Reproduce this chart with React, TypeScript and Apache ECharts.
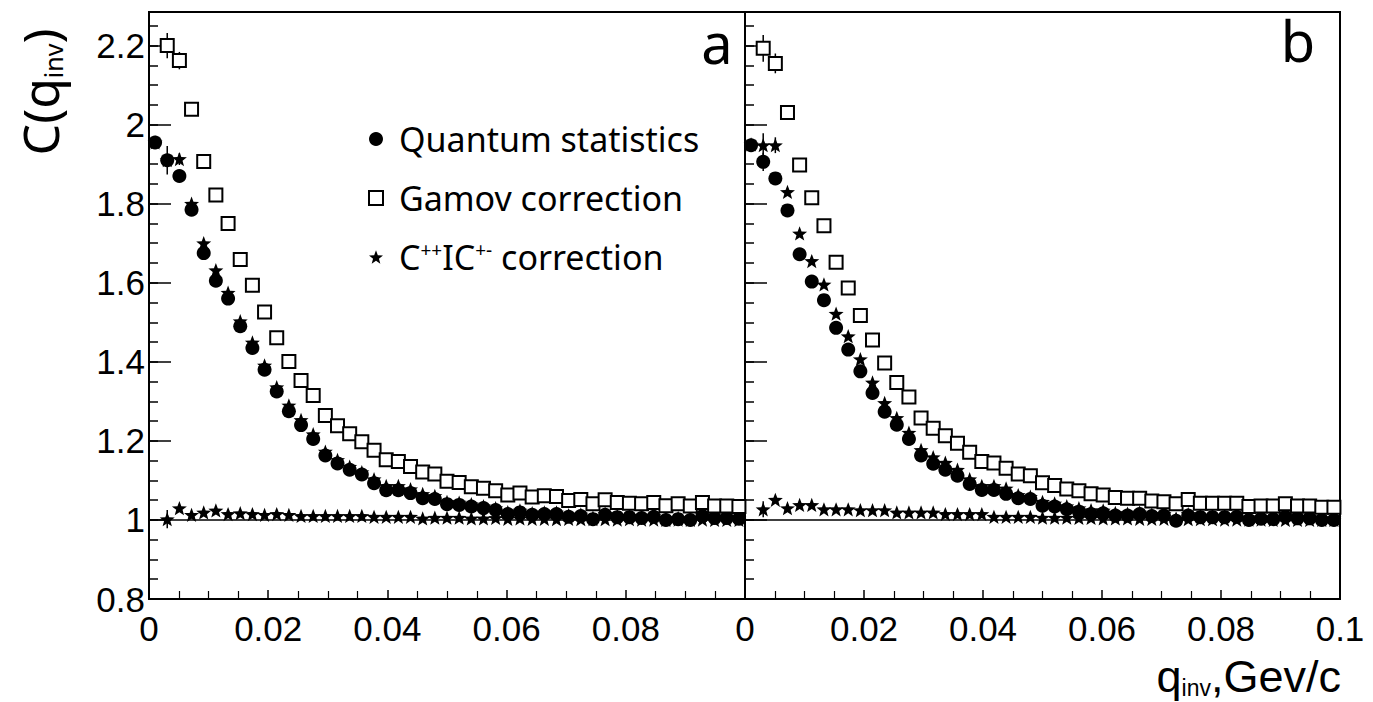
import { useEffect, useRef } from 'react';
import * as echarts from 'echarts';

// bin centres of q_inv (GeV/c), 49 bins over 0..0.1
const qInv = [
  0.00102, 0.00306, 0.0051, 0.00714, 0.00918, 0.01122, 0.01327, 0.01531, 0.01735, 0.01939,
  0.02143, 0.02347, 0.02551, 0.02755, 0.02959, 0.03163, 0.03367, 0.03571, 0.03776, 0.0398,
  0.04184, 0.04388, 0.04592, 0.04796, 0.05, 0.05204, 0.05408, 0.05612, 0.05816, 0.0602,
  0.06224, 0.06429, 0.06633, 0.06837, 0.07041, 0.07245, 0.07449, 0.07653, 0.07857, 0.08061,
  0.08265, 0.08469, 0.08673, 0.08878, 0.09082, 0.09286, 0.0949, 0.09694, 0.09898,
];

// Panel a
const quantumA = [
  1.955, 1.91, 1.87, 1.785, 1.675, 1.605, 1.56, 1.49, 1.435, 1.38,
  1.325, 1.275, 1.24, 1.205, 1.163, 1.143, 1.127, 1.115, 1.093, 1.075,
  1.075, 1.068, 1.055, 1.053, 1.04, 1.038, 1.034, 1.03, 1.025, 1.015,
  1.019, 1.013, 1.015, 1.015, 1.008, 1.01, 1.002, 1.013, 1.007, 1.007,
  1.005, 1.008, 1.0, 1.002, 1.0, 1.01, 1.005, 1.005, 1.003,
];
const gamovA = [
  null, 2.2, 2.162, 2.039, 1.907, 1.822, 1.75, 1.659, 1.594, 1.526,
  1.461, 1.401, 1.353, 1.315, 1.264, 1.238, 1.218, 1.198, 1.176, 1.152,
  1.148, 1.135, 1.121, 1.116, 1.098, 1.095, 1.084, 1.08, 1.074, 1.063,
  1.068, 1.058, 1.061, 1.059, 1.049, 1.052, 1.041, 1.051, 1.044, 1.042,
  1.041, 1.044, 1.036, 1.041, 1.035, 1.044, 1.035, 1.035, 1.034,
];
const corrA = [
  1.955, 1.91, 1.913, 1.8, 1.7, 1.632, 1.575, 1.503, 1.449, 1.391,
  1.336, 1.29, 1.253, 1.217, 1.173, 1.152, 1.135, 1.121, 1.103, 1.086,
  1.086, 1.078, 1.066, 1.061, 1.046, 1.044, 1.04, 1.035, 1.03, 1.02,
  1.024, 1.017, 1.019, 1.019, 1.012, 1.014, 1.006, 1.016, 1.01, 1.01,
  1.008, 1.011, 1.003, 1.005, 1.003, 1.012, 1.008, 1.008, 1.006,
];
const ratioA = [
  null, 1.002, 1.03, 1.013, 1.019, 1.024, 1.015, 1.017, 1.015, 1.013,
  1.015, 1.013, 1.01, 1.01, 1.01, 1.01, 1.01, 1.01, 1.008, 1.008,
  1.008, 1.008, 1.004, 1.006, 1.006, 1.006, 1.004, 1.004, 1.005, 1.003,
  1.004, 1.003, 1.003, 1.002, 1.003, 1.002, 1.002, 1.002, 1.001, 1.002,
  1.001, 1.001, 1.0, 1.001, 1.0, 1.001, 1.0, 1.0, 1.0,
];

// Panel b
const quantumB = [
  1.948, 1.906, 1.864, 1.783, 1.672, 1.603, 1.556, 1.486, 1.431, 1.376,
  1.321, 1.274, 1.241, 1.205, 1.163, 1.142, 1.127, 1.112, 1.091, 1.076,
  1.076, 1.066, 1.055, 1.053, 1.036, 1.034, 1.027, 1.021, 1.015, 1.017,
  1.011, 1.011, 1.015, 1.01, 1.011, 0.998, 1.011, 1.007, 1.007, 1.007,
  1.008, 1.0, 1.003, 1.002, 1.008, 1.004, 1.004, 1.0, 1.0,
];
const gamovB = [
  null, 2.193, 2.155, 2.031, 1.898, 1.815, 1.744, 1.652, 1.587, 1.517,
  1.455, 1.397, 1.348, 1.311, 1.258, 1.232, 1.213, 1.194, 1.171, 1.148,
  1.144, 1.131, 1.116, 1.112, 1.094, 1.087, 1.078, 1.074, 1.066, 1.063,
  1.057, 1.055, 1.055, 1.048, 1.046, 1.041, 1.052, 1.042, 1.042, 1.042,
  1.042, 1.034, 1.035, 1.035, 1.041, 1.035, 1.035, 1.032, 1.032,
];
const corrB = [
  1.95, 1.948, 1.948, 1.83, 1.725, 1.655, 1.596, 1.522, 1.465, 1.407,
  1.348, 1.296, 1.258, 1.221, 1.177, 1.159, 1.145, 1.127, 1.103, 1.086,
  1.086, 1.08, 1.063, 1.059, 1.046, 1.042, 1.035, 1.03, 1.025, 1.024,
  1.018, 1.016, 1.019, 1.014, 1.015, 1.003, 1.015, 1.011, 1.011, 1.011,
  1.012, 1.004, 1.007, 1.006, 1.012, 1.008, 1.008, 1.004, 1.004,
];
const ratioB = [
  null, 1.027, 1.051, 1.03, 1.038, 1.038, 1.027, 1.027, 1.027, 1.025,
  1.025, 1.025, 1.019, 1.019, 1.019, 1.019, 1.015, 1.015, 1.015, 1.015,
  1.008, 1.008, 1.008, 1.008, 1.006, 1.006, 1.006, 1.005, 1.005, 1.004,
  1.004, 1.004, 1.003, 1.003, 1.003, 1.002, 1.002, 1.002, 1.002, 1.001,
  1.001, 1.001, 1.001, 1.0, 1.0, 1.0, 1.0, 1.0, 1.0,
];

// statistical error half-widths (only the first bins show visible bars)
const errQuantumA = [0.013, 0.036, 0.015];
const errGamovA = [null, 0.032, 0.022, 0.012];
const errCorrA = [null, null, 0.015];
const errRatioA = [null, 0.023];
const errQuantumB = [0.012, 0.023, 0.012];
const errGamovB = [null, 0.034, 0.025, 0.012];
const errCorrB = [null, 0.03, 0.02];
const errRatioB = [null, 0.02];

const xTickLabelsA = ['0', '0.02', '0.04', '0.06', '0.08', ''];
const xTickLabelsB = ['0', '0.02', '0.04', '0.06', '0.08', '0.1'];
const yTickLabels = ['0.8', '1', '1.2', '1.4', '1.6', '1.8', '2', '2.2'];

const NAME_Q = 'Quantum statistics';
const NAME_G = 'Gamov correction';
const NAME_C = 'C++IC+- correction';

const STAR =
  'path://M0,-10L2.47,-3.4L9.51,-3.09L3.99,1.3L5.88,8.09L0,4.2L-5.88,8.09L-3.99,1.3L-9.51,-3.09L-2.47,-3.4Z';

const AXIS_FONT = 'Liberation Sans, Arial, sans-serif';
const TEXT_FONT = 'Noto Sans, DejaVu Sans, sans-serif';

function pts(ys: (number | null)[]) {
  const out: number[][] = [];
  ys.forEach((y, i) => {
    if (y != null) out.push([qInv[i], y]);
  });
  return out;
}

function errPts(pairs: [(number | null)[], (number | null)[]][]) {
  const out: number[][] = [];
  pairs.forEach(([ys, es]) => {
    es.forEach((e, i) => {
      const y = ys[i];
      if (e != null && y != null) out.push([qInv[i], y, e]);
    });
  });
  return out;
}

function panelSeries(
  p: number,
  quantum: (number | null)[],
  gamov: (number | null)[],
  corr: (number | null)[],
  ratio: (number | null)[],
  errs: [(number | null)[], (number | null)[]][],
) {
  const axes = { xAxisIndex: p, yAxisIndex: p * 2 };
  return [
    {
      type: 'scatter',
      name: 'ratio' + p,
      ...axes,
      data: pts(ratio),
      symbol: STAR,
      symbolKeepAspect: true,
      symbolSize: 15,
      itemStyle: { color: '#000', opacity: 1 },
      markLine: {
        silent: true,
        symbol: ['none', 'none'],
        label: { show: false },
        lineStyle: { color: '#000', width: 1.5, type: 'solid', opacity: 1 },
        data: [{ yAxis: 1 }],
      },
    },
    {
      type: 'scatter',
      name: NAME_C,
      ...axes,
      data: pts(corr),
      symbol: STAR,
      symbolKeepAspect: true,
      symbolSize: 15,
      itemStyle: { color: '#000', opacity: 1 },
    },
    {
      type: 'scatter',
      name: NAME_Q,
      ...axes,
      data: pts(quantum),
      symbol: 'circle',
      symbolSize: 14,
      itemStyle: { color: '#000', opacity: 1 },
    },
    {
      type: 'scatter',
      name: NAME_G,
      ...axes,
      data: pts(gamov),
      symbol: 'rect',
      symbolSize: 13,
      itemStyle: { color: '#fff', borderColor: '#000', borderWidth: 2, opacity: 1 },
    },
    {
      type: 'custom',
      name: 'err' + p,
      ...axes,
      data: errPts(errs),
      encode: { x: 0, y: 1 },
      renderItem: (_params: any, api: any) => {
        const x = api.value(0);
        const y = api.value(1);
        const e = api.value(2);
        const a = api.coord([x, y - e]);
        const b = api.coord([x, y + e]);
        return {
          type: 'line',
          shape: { x1: a[0], y1: a[1], x2: b[0], y2: b[1] },
          style: { stroke: '#000', lineWidth: 1.5 },
        };
      },
    },
  ];
}

function xAxis(p: number, labels: string[]) {
  return {
    type: 'value',
    gridIndex: p,
    min: 0,
    max: 0.1,
    interval: 0.02,
    axisLine: { show: false },
    axisTick: { show: true, inside: true, length: 9, lineStyle: { color: '#000', width: 1.5 } },
    minorTick: { show: true, splitNumber: 4, length: 8, lineStyle: { color: '#000', width: 1.2 } },
    splitLine: { show: false },
    minorSplitLine: { show: false },
    axisLabel: {
      show: true,
      margin: 11,
      color: '#000',
      fontSize: 35,
      lineHeight: 36,
      fontFamily: AXIS_FONT,
      showMinLabel: true,
      showMaxLabel: true,
      formatter: (_v: number, i: number) => labels[i] ?? '',
    },
  };
}

function yAxis(p: number, major: boolean, labels: boolean) {
  return {
    type: 'value',
    gridIndex: p,
    position: 'left',
    min: 0.8,
    max: 2.285,
    interval: major ? 0.2 : 0.05,
    axisLine: { show: false },
    axisTick: {
      show: true,
      inside: true,
      length: major ? 22 : 9,
      lineStyle: { color: '#000', width: 1.5 },
    },
    splitLine: { show: false },
    axisLabel: {
      show: labels,
      inside: false,
      margin: 4,
      color: '#000',
      fontSize: 35,
      lineHeight: 36,
      fontFamily: AXIS_FONT,
      formatter: (_v: number, i: number) => yTickLabels[i] ?? '',
    },
  };
}

export default function App() {
  const ref = useRef<HTMLDivElement>(null);

  useEffect(() => {
    document.body.style.margin = '0';
    if (!ref.current) return;
    const chart = echarts.init(ref.current, null, { renderer: 'svg' });
    const option: any = {
      animation: false,
      backgroundColor: '#fff',
      grid: [
        { left: 149, top: 12, width: 596, height: 587, show: true, borderColor: '#000', borderWidth: 2, backgroundColor: 'transparent' },
        { left: 745, top: 12, width: 595, height: 587, show: true, borderColor: '#000', borderWidth: 2, backgroundColor: 'transparent' },
      ],
      xAxis: [xAxis(0, xTickLabelsA), xAxis(1, xTickLabelsB)],
      yAxis: [yAxis(0, true, true), yAxis(0, false, false), yAxis(1, true, false), yAxis(1, false, false)],
      legend: {
        data: [NAME_Q, NAME_G, NAME_C],
        orient: 'vertical',
        left: 363,
        top: 117,
        itemGap: 25,
        itemWidth: 14,
        itemHeight: 14,
        selectedMode: false,
        textStyle: {
          color: '#000',
          fontSize: 34,
          fontFamily: TEXT_FONT,
          rich: {
            t: { fontSize: 34, fontFamily: TEXT_FONT, color: '#000' },
            p: { fontSize: 34, fontFamily: TEXT_FONT, color: '#000', padding: [0, 0, 0, 11] },
            sup: { fontSize: 19, fontFamily: TEXT_FONT, color: '#000', verticalAlign: 'top' },
          },
        },
        formatter: (name: string) =>
          name === NAME_C
            ? '{p|C}{sup|++}{t|IC}{sup|+-}{t| correction}'
            : '{p|' + name + '}',
      },
      graphic: [
        {
          type: 'text',
          x: 717,
          y: 42,
          style: { text: 'a', fontSize: 56, fontFamily: TEXT_FONT, fill: '#000', align: 'center', verticalAlign: 'middle' },
        },
        {
          type: 'text',
          x: 1298,
          y: 40,
          style: { text: 'b', fontSize: 56, fontFamily: TEXT_FONT, fill: '#000', align: 'center', verticalAlign: 'middle' },
        },
        {
          type: 'text',
          x: 40,
          y: 92,
          rotation: Math.PI / 2,
          style: {
            text: '{m|C(q}{s|inv}{m|)}',
            fill: '#000',
            align: 'center',
            verticalAlign: 'middle',
            rich: {
              m: { fontSize: 50, fontFamily: TEXT_FONT, fill: '#000', color: '#000' },
              s: { fontSize: 25, fontFamily: TEXT_FONT, fill: '#000', color: '#000', verticalAlign: 'bottom' },
            },
          },
        },
        {
          type: 'text',
          x: 1341,
          y: 676,
          style: {
            text: '{m|q}{s|inv}{m|,Gev/c}',
            fill: '#000',
            align: 'right',
            verticalAlign: 'middle',
            rich: {
              m: { fontSize: 45, lineHeight: 46, fontFamily: AXIS_FONT, fill: '#000', color: '#000' },
              s: { fontSize: 23, lineHeight: 24, fontFamily: AXIS_FONT, fill: '#000', color: '#000', verticalAlign: 'bottom' },
            },
          },
        },
      ],
      series: [
        ...panelSeries(0, quantumA, gamovA, corrA, ratioA, [
          [quantumA, errQuantumA],
          [gamovA, errGamovA],
          [corrA, errCorrA],
          [ratioA, errRatioA],
        ]),
        ...panelSeries(1, quantumB, gamovB, corrB, ratioB, [
          [quantumB, errQuantumB],
          [gamovB, errGamovB],
          [corrB, errCorrB],
          [ratioB, errRatioB],
        ]),
      ],
    };
    chart.setOption(option);
    return () => chart.dispose();
  }, []);

  return <div ref={ref} style={{ width: 1373, height: 702 }} />;
}
